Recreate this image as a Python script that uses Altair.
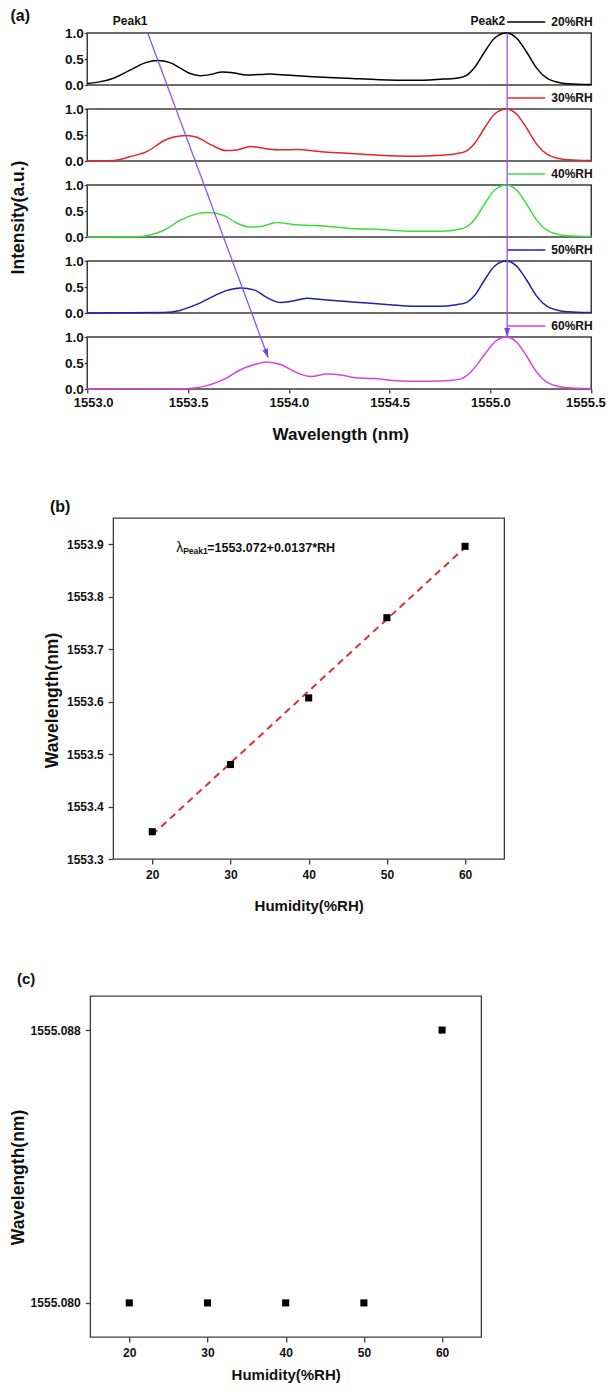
import math
import altair as alt
import pandas as pd

FONT = "Liberation Sans"
INK = "#111111"
FRAME = "#3c3c3c"
PURPLE = "#8a58e6"

# ---------------- panel (a): transmission spectra ----------------
series = ["20%RH", "30%RH", "40%RH", "50%RH", "60%RH"]
colors = ["#000000", "#e3262c", "#3ddc3d", "#1f1fa8", "#e03ee0"]
wl_ticks = [1553.0, 1553.5, 1554.0, 1554.5, 1555.0, 1555.5]
int_ticks = [0.0, 0.5, 1.0]

wl_20 = [1553.00, 1553.06, 1553.13, 1553.21, 1553.29, 1553.35, 1553.41, 1553.46, 1553.51, 1553.56,
         1553.61, 1553.67, 1553.73, 1553.79, 1553.85, 1553.90, 1553.99, 1554.12, 1554.29, 1554.45,
         1554.62, 1554.75, 1554.83, 1554.88, 1554.92, 1554.97, 1555.02, 1555.08, 1555.13, 1555.18,
         1555.23, 1555.28, 1555.35, 1555.43, 1555.50]
in_20 = [0.03, 0.06, 0.13, 0.28, 0.43, 0.47, 0.43, 0.33, 0.22, 0.18,
         0.20, 0.25, 0.23, 0.19, 0.20, 0.21, 0.19, 0.16, 0.13, 0.10,
         0.09, 0.11, 0.13, 0.18, 0.33, 0.63, 0.90, 1.00, 0.90, 0.63,
         0.32, 0.13, 0.04, 0.015, 0.01]

wl_30 = [1553.00, 1553.13, 1553.21, 1553.30, 1553.38, 1553.43, 1553.49, 1553.54, 1553.61, 1553.69,
         1553.74, 1553.81, 1553.88, 1553.96, 1554.04, 1554.16, 1554.29, 1554.45, 1554.62, 1554.75,
         1554.83, 1554.88, 1554.92, 1554.97, 1555.02, 1555.08, 1555.13, 1555.18, 1555.23, 1555.28,
         1555.35, 1555.43, 1555.50]
in_30 = [0.00, 0.01, 0.08, 0.19, 0.39, 0.46, 0.49, 0.46, 0.32, 0.20,
         0.21, 0.28, 0.24, 0.215, 0.22, 0.18, 0.15, 0.11, 0.09, 0.11,
         0.14, 0.19, 0.33, 0.63, 0.90, 1.00, 0.90, 0.63, 0.32, 0.13,
         0.04, 0.015, 0.01]

wl_40 = [1553.00, 1553.26, 1553.32, 1553.38, 1553.46, 1553.53, 1553.60, 1553.68, 1553.74, 1553.81,
         1553.86, 1553.94, 1554.02, 1554.12, 1554.20, 1554.29, 1554.45, 1554.62, 1554.75, 1554.83,
         1554.88, 1554.92, 1554.97, 1555.02, 1555.08, 1555.13, 1555.18, 1555.23, 1555.28, 1555.35,
         1555.43, 1555.50]
in_40 = [0.00, 0.01, 0.05, 0.13, 0.32, 0.43, 0.47, 0.41, 0.27, 0.19,
         0.20, 0.28, 0.24, 0.22, 0.20, 0.17, 0.145, 0.11, 0.11, 0.14,
         0.19, 0.33, 0.63, 0.90, 1.00, 0.90, 0.63, 0.32, 0.13, 0.04,
         0.015, 0.01]

wl_50 = [1553.00, 1553.38, 1553.46, 1553.54, 1553.63, 1553.69, 1553.76, 1553.83, 1553.89, 1553.96,
         1554.02, 1554.09, 1554.16, 1554.29, 1554.39, 1554.50, 1554.62, 1554.75, 1554.83, 1554.88,
         1554.92, 1554.97, 1555.02, 1555.08, 1555.13, 1555.18, 1555.23, 1555.28, 1555.35, 1555.43,
         1555.50]
in_50 = [0.00, 0.01, 0.05, 0.16, 0.33, 0.43, 0.48, 0.44, 0.30, 0.20,
         0.23, 0.285, 0.26, 0.22, 0.19, 0.16, 0.13, 0.13, 0.16, 0.20,
         0.33, 0.63, 0.90, 1.00, 0.90, 0.63, 0.32, 0.13, 0.04, 0.015,
         0.01]

wl_60 = [1553.00, 1553.49, 1553.59, 1553.68, 1553.76, 1553.83, 1553.89, 1553.96, 1554.02, 1554.11,
         1554.19, 1554.26, 1554.33, 1554.42, 1554.53, 1554.65, 1554.78, 1554.85, 1554.89, 1554.93,
         1554.97, 1555.02, 1555.08, 1555.13, 1555.18, 1555.23, 1555.28, 1555.35, 1555.43, 1555.50]
in_60 = [0.00, 0.005, 0.06, 0.19, 0.37, 0.47, 0.52, 0.47, 0.35, 0.24,
         0.29, 0.27, 0.215, 0.20, 0.16, 0.15, 0.16, 0.19, 0.28, 0.45,
         0.66, 0.90, 1.00, 0.90, 0.63, 0.32, 0.13, 0.04, 0.015, 0.01]

wls = [wl_20, wl_30, wl_40, wl_50, wl_60]
ints = [in_20, in_30, in_40, in_50, in_60]

# annotation anchors (wavelength in nm, intensity in a.u.)
peak_labels = ["Peak1", "Peak2"]
peak_label_wl = [1553.213, 1554.987]
peak2_wl = 1555.083
arrow1_wl = [1553.30, 1553.898]
arrow1_tip_int = 0.60
legend_seg_wl = [1555.083, 1555.272]
legend_text_wl = 1555.302

# ---------------- panels (b) and (c) ----------------
rh = [20, 30, 40, 50, 60]
peak1_pos = [1553.352, 1553.480, 1553.607, 1553.760, 1553.896]
peak2_pos = [1555.080, 1555.080, 1555.080, 1555.080, 1555.088]
fit_intercept, fit_slope = 1553.072, 0.0137
rh_ticks = [20, 30, 40, 50, 60]
b_ticks = [1553.3, 1553.4, 1553.5, 1553.6, 1553.7, 1553.8, 1553.9]
c_ticks = [1555.080, 1555.088]

# ---------------- layout ----------------
A_W, A_H = 504, 356
U = 52.0                      # px per intensity unit in each sub-panel
GAP = 76.0 / U                # sub-panel pitch in intensity units
YMAX = A_H / U
nser = len(series)
bases = [(nser - 1 - k) * GAP for k in range(nser)]
B_W, B_H = 391, 341
C_W, C_H = 391, 341
RIGHT = 532                   # common right extent used for horizontal centring

one = pd.DataFrame({"k": [0]})


def anchor(x1, x2, y1, y2):
    return alt.Chart(one).mark_rect(opacity=0).encode(
        x=alt.value(x1), x2=alt.value(x2), y=alt.value(y1), y2=alt.value(y2))


def label(text, x, y, size=16, weight="bold", align="center"):
    return alt.Chart(one).mark_text(text=text, align=align, baseline="middle", fontSize=size,
                                    fontWeight=weight, color=INK).encode(
        x=alt.value(x), y=alt.value(y))


# ---------- chart A ----------
rows = []
for s, wl, iv, b in zip(series, wls, ints, bases):
    for w, v in zip(wl, iv):
        rows.append({"series": s, "wl": w, "y": b + v})
spec_df = pd.DataFrame(rows)

frame_df = pd.DataFrame({"x1": [wl_ticks[0]] * nser, "x2": [wl_ticks[-1]] * nser,
                         "y1": bases, "y2": [b + 1.0 for b in bases]})
leg_off = 11.0 / U
leg_df = pd.DataFrame({"series": series, "x1": [legend_seg_wl[0]] * nser,
                       "x2": [legend_seg_wl[1]] * nser, "tx": [legend_text_wl] * nser,
                       "ly": [b + 1.0 + leg_off for b in bases]})
peak_df = pd.DataFrame({"text": peak_labels, "wl": peak_label_wl, "y": [YMAX + 12.0 / U] * 2})

tip_y = bases[-1] + arrow1_tip_int
arrow1_df = pd.DataFrame({"wl": arrow1_wl, "y": [YMAX, tip_y]})
arrow2_df = pd.DataFrame({"wl": [peak2_wl], "y1": [YMAX], "y2": [bases[-1] + 1.0]})
dx_px = (arrow1_wl[1] - arrow1_wl[0]) * A_W / (wl_ticks[-1] - wl_ticks[0])
dy_px = (YMAX - tip_y) * U
ang1 = 360 - math.degrees(math.atan2(dx_px, dy_px))
head1_df = pd.DataFrame({"wl": [arrow1_wl[1]], "y": [tip_y]})
head2_df = pd.DataFrame({"wl": [peak2_wl], "y": [bases[-1] + 1.0]})
HEAD = "M0,0L-0.65,-2L0.65,-2Z"

xsA = alt.Scale(domain=[wl_ticks[0], wl_ticks[-1]], nice=False, zero=False)
ysA = alt.Scale(domain=[0, YMAX], nice=False, zero=False)
colA = alt.Scale(domain=series, range=colors)

ytick_vals = sorted(min(b + v, YMAX) for b in bases for v in int_ticks)
ax_xA = alt.Axis(values=wl_ticks, format=".1f", labelFontSize=13, labelFontWeight="bold",
                 labelColor=INK, labelPadding=3, labelFlush=True, labelFlushOffset=14,
                 labelOverlap=False,
                 tickSize=4, tickColor=FRAME, tickWidth=1.3, domain=False, grid=False,
                 titleFontSize=17, titleFontWeight="bold", titleColor=INK,
                 titleX=A_W / 2 + 1, titleY=45, titleBaseline="middle")
ax_yA = alt.Axis(values=ytick_vals,
                 labelExpr=f"format(abs(datum.value - floor(datum.value / {GAP} + 0.01) * {GAP}), '.1f')",
                 labelFontSize=13.5, labelFontWeight="bold", labelColor=INK, labelPadding=1,
                 labelOverlap=False, tickSize=3, tickColor=FRAME, tickWidth=1.3,
                 domain=False, grid=False, titleFontSize=17.5, titleFontWeight="bold",
                 titleColor=INK, titleX=-69, titleY=184, titleBaseline="middle",
                 titleAngle=270, titleAlign="center")


def XA(f):
    return alt.X(f"{f}:Q", scale=xsA, axis=ax_xA, title="Wavelength (nm)")


def YA(f):
    return alt.Y(f"{f}:Q", scale=ysA, axis=ax_yA, title="Intensity(a.u.)")


frames = alt.Chart(frame_df).mark_rect(fillOpacity=0, stroke=FRAME, strokeWidth=1.5).encode(
    x=XA("x1"), x2="x2:Q", y=YA("y1"), y2="y2:Q")
curves = alt.Chart(spec_df).mark_line(strokeWidth=1.5, interpolate="monotone").encode(
    x=XA("wl"), y=YA("y"), color=alt.Color("series:N", scale=colA, legend=None))
leg_lines = alt.Chart(leg_df).mark_rule(strokeWidth=1.5).encode(
    x=XA("x1"), x2="x2:Q", y=YA("ly"), color=alt.Color("series:N", scale=colA, legend=None))
leg_text = alt.Chart(leg_df).mark_text(align="left", baseline="middle", fontSize=12,
                                       fontWeight="bold", color=INK).encode(
    x=XA("tx"), y=YA("ly"), text="series:N")
peak_text = alt.Chart(peak_df).mark_text(align="center", baseline="middle", fontSize=12,
                                         fontWeight="bold", color=INK).encode(
    x=XA("wl"), y=YA("y"), text="text:N")
arrow1 = alt.Chart(arrow1_df).mark_line(color=PURPLE, strokeWidth=1.3).encode(
    x=XA("wl"), y=YA("y"))
arrow2 = alt.Chart(arrow2_df).mark_rule(color=PURPLE, strokeWidth=1.3).encode(
    x=XA("wl"), y=YA("y1"), y2="y2:Q")
head1 = alt.Chart(head1_df).mark_point(shape=HEAD, filled=True, size=81, angle=ang1,
                                        color="#7a3ee6", opacity=1).encode(x=XA("wl"), y=YA("y"))
head2 = alt.Chart(head2_df).mark_point(shape=HEAD, filled=True, size=81, angle=0,
                                        color="#7a3ee6", opacity=1).encode(x=XA("wl"), y=YA("y"))

A = alt.layer(
    anchor(-79, RIGHT, -25, 427), frames, curves, leg_lines, leg_text, peak_text,
    arrow1, arrow2, head1, head2, label("(a)", -67, -17)
).properties(width=A_W, height=A_H, view=alt.ViewBackground(stroke="transparent"))

# ---------- chart B ----------
b_df = pd.DataFrame({"rh": rh, "wl": peak1_pos})
fit_df = pd.DataFrame({"rh": [rh[0], rh[-1]],
                       "wl": [fit_intercept + fit_slope * rh[0], fit_intercept + fit_slope * rh[-1]]})
xsB = alt.Scale(domain=[15, 65], nice=False, zero=False)
ysB = alt.Scale(domain=[1553.3, 1553.95], nice=False, zero=False)
ysC = alt.Scale(domain=[1555.079, 1555.089], nice=False, zero=False)


def xaxis_rh(title_y):
    return alt.Axis(values=rh_ticks, format="d", labelFontSize=12, labelFontWeight="bold",
                    labelColor=INK, labelPadding=5, labelFlush=False, tickSize=5,
                    tickColor=FRAME, tickWidth=1.3, domain=False, grid=False,
                    titleFontSize=15, titleFontWeight="bold", titleColor=INK,
                    titleX=B_W / 2, titleY=title_y, titleBaseline="middle")


def yaxis_wl(values, fmt, title_x, title_y):
    return alt.Axis(values=values, format=fmt, labelFontSize=12, labelFontWeight="bold",
                    labelColor=INK, labelPadding=5, labelOverlap=False, tickSize=5,
                    tickColor=FRAME, tickWidth=1.3, domain=False, grid=False,
                    titleFontSize=17.5, titleFontWeight="bold", titleColor=INK,
                    titleX=title_x, titleY=title_y, titleBaseline="middle",
                    titleAngle=270, titleAlign="center")


ax_xB = xaxis_rh(46)
ax_yB = yaxis_wl(b_ticks, ".1f", -61, 182)
ax_xC = xaxis_rh(37)
ax_yC = yaxis_wl(c_ticks, ".3f", -72, 181)

fitB = alt.Chart(fit_df).mark_line(color="#dc3038", strokeWidth=2, strokeDash=[7, 5]).encode(
    x=alt.X("rh:Q", scale=xsB, axis=ax_xB, title="Humidity(%RH)"),
    y=alt.Y("wl:Q", scale=ysB, axis=ax_yB, title="Wavelength(nm)"))
ptsB = alt.Chart(b_df).mark_square(size=50, color="#000000", opacity=1).encode(
    x=alt.X("rh:Q", scale=xsB, axis=ax_xB, title="Humidity(%RH)"),
    y=alt.Y("wl:Q", scale=ysB, axis=ax_yB, title="Wavelength(nm)"))

B = alt.layer(
    anchor(-105, RIGHT - 52, -56, 399), fitB, ptsB,
    label("λ", 63, 30, size=14, weight="normal", align="left"),
    label("Peak1", 70, 33, size=8.5, align="left"),
    label("=1553.072+0.0137*RH", 94, 30, size=12.5, align="left"),
    label("(b)", -53, -11)
).properties(width=B_W, height=B_H, view=alt.ViewBackground(stroke=FRAME, strokeWidth=1.3))

# ---------- chart C ----------
c_df = pd.DataFrame({"rh": rh, "wl": peak2_pos})
ptsC = alt.Chart(c_df).mark_square(size=50, color="#000000", opacity=1).encode(
    x=alt.X("rh:Q", scale=xsB, axis=ax_xC, title="Humidity(%RH)"),
    y=alt.Y("wl:Q", scale=ysC, axis=ax_yC, title="Wavelength(nm)"))

C = alt.layer(
    anchor(-82, RIGHT - 6, -77, 386), ptsC, label("(c)", -64, -17, size=15)
).properties(width=C_W, height=C_H, view=alt.ViewBackground(stroke=FRAME, strokeWidth=1.3))

chart = alt.vconcat(A, B, C, spacing=0, center=True, bounds="full").properties(
    autosize=alt.AutoSizeParams(type="none"),
    padding={"left": 79, "top": 25, "right": 519, "bottom": 1352},
).configure(font=FONT)

chart.save("out.html", embed_options={"renderer": "svg", "actions": False})
